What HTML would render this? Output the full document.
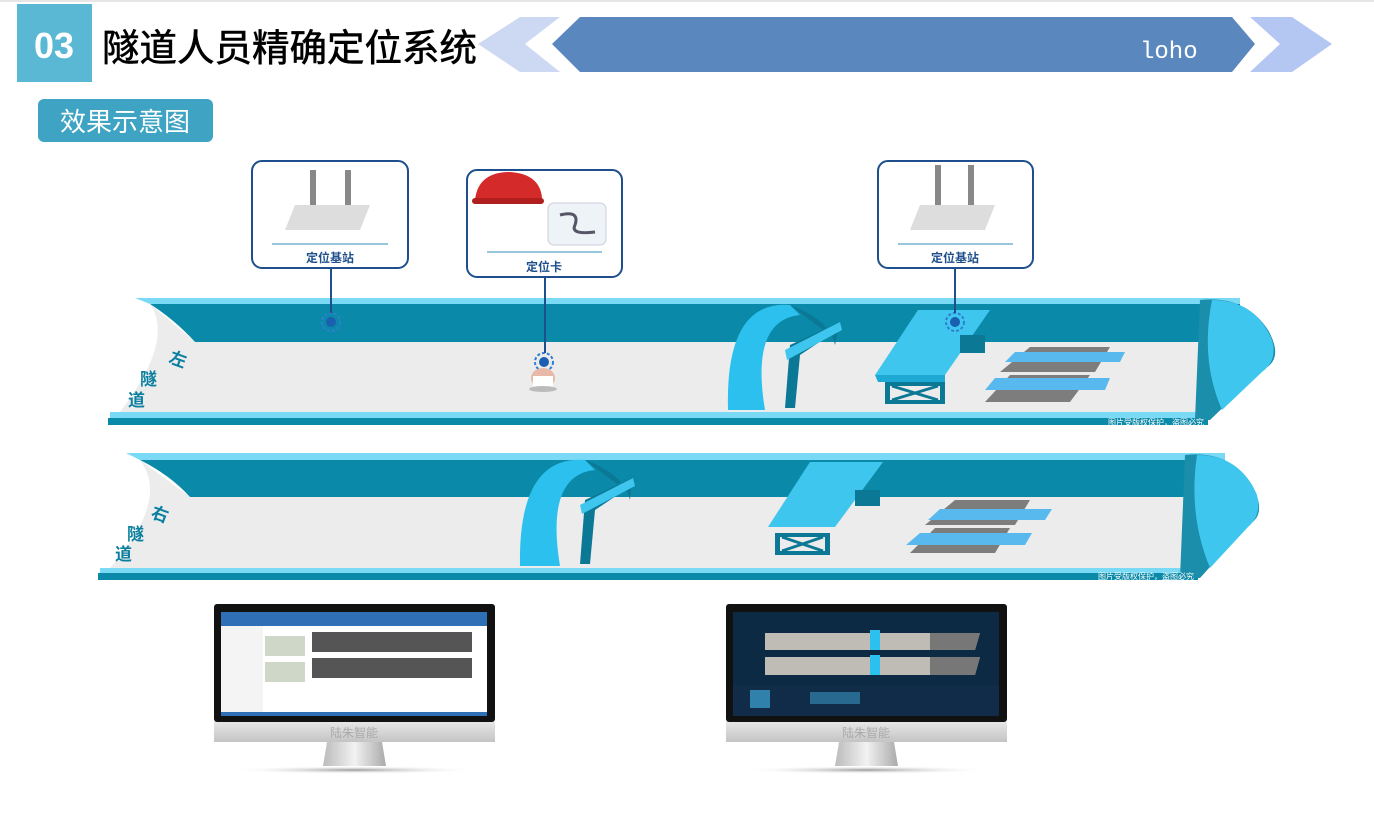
<!DOCTYPE html>
<html><head><meta charset="utf-8"><style>
html,body{margin:0;padding:0;background:#fff;}
body{width:1374px;height:817px;overflow:hidden;position:relative;font-family:"Liberation Sans","Noto Sans CJK SC",sans-serif;}
</style></head><body>
<svg width="1374" height="817" viewBox="0 0 1374 817" xmlns="http://www.w3.org/2000/svg" style="position:absolute;left:0;top:0">
<defs>
<linearGradient id="stand" x1="0" x2="1"><stop offset="0" stop-color="#bbb"/><stop offset=".5" stop-color="#f2f2f2"/><stop offset="1" stop-color="#aaa"/></linearGradient>
<linearGradient id="chin" x1="0" y1="0" x2="0" y2="1"><stop offset="0" stop-color="#e6e6e6"/><stop offset="1" stop-color="#c4c4c4"/></linearGradient>
<radialGradient id="sh"><stop offset="0" stop-color="#999"/><stop offset="1" stop-color="#fff" stop-opacity="0"/></radialGradient>
</defs>
<line x1="0" y1="1" x2="1374" y2="1" stroke="#e6e6e6" stroke-width="2"/>
<!-- header -->
<rect x="17" y="4" width="75" height="78" fill="#5bb8d4"/>
<text x="54" y="58" text-anchor="middle" font-size="36" font-weight="bold" fill="#fff">03</text>
<text x="102" y="61" font-size="37.5" fill="#000" stroke="#000" stroke-width="0.6" font-family="'Noto Sans CJK SC',sans-serif">隧道人员精确定位系统</text>
<polygon points="520,17 560,17 525,44 560,72 520,72 478,44" fill="#cdd8f2"/>
<polygon points="580,17 1232,17 1255,44 1232,72 580,72 552,44" fill="#5b87bf"/>
<text x="1140" y="58" font-size="24" fill="#fff" font-family="'Liberation Mono',monospace">loho</text>
<polygon points="1250,17 1292,17 1332,44 1292,72 1250,72 1280,44" fill="#b4c6f2"/>
<rect x="38" y="99" width="175" height="43" rx="6" fill="#3fa3c4"/>
<text x="125" y="131" text-anchor="middle" font-size="26" fill="#fff" font-family="'Noto Sans CJK SC',sans-serif">效果示意图</text>

<!-- tunnel 1 -->
<polygon points="135,298 1240,298 1240,304 150,304" fill="#7ad9f5"/>
<path d="M150,304 L1240,304 L1240,342 L195,342 Q175,320 150,304Z" fill="#0a8aa8"/>
<path d="M150,304 Q175,340 120,412 L1210,412 L1210,342 L195,342Z" fill="#ececec"/>
<rect x="110" y="412" width="1100" height="6" fill="#7ad9f5"/>
<rect x="108" y="418" width="1100" height="7" fill="#0a8aa8"/>
<path d="M1200,300 Q1245,295 1268,330 Q1285,360 1262,370 L1210,420 L1195,420 Z" fill="#1a8eaa"/>
<path d="M1212,300 Q1255,300 1272,340 Q1278,360 1262,372 L1222,410 Q1200,360 1212,300Z" fill="#3fc6ee"/>
<text x="168" y="362" font-size="17" font-weight="bold" fill="#0a7fa0" font-family="'Noto Sans CJK SC',sans-serif" transform="rotate(20 168 362)">左</text>
<text x="140" y="385" font-size="17" font-weight="bold" fill="#0a7fa0" font-family="'Noto Sans CJK SC',sans-serif">隧</text>
<text x="128" y="406" font-size="17" font-weight="bold" fill="#0a7fa0" font-family="'Noto Sans CJK SC',sans-serif">道</text>
<path d="M728,410 Q725,300 790,305 L800,315 Q750,320 765,410Z" fill="#2cc0ee"/>
<path d="M790,305 Q830,320 835,345 L840,322 L790,345 L785,408 L795,408 L800,355 L830,335Z" fill="#0b7895"/>
<polygon points="785,350 840,322 842,330 787,360" fill="#3fc6ee"/>
<polygon points="918,310 990,310 945,375 875,375" fill="#3fc6ee"/>
<polygon points="875,375 945,375 945,382 878,382" fill="#1ea9d4"/>
<rect x="885" y="382" width="60" height="22" fill="#0b7895"/>
<rect x="890" y="386" width="50" height="14" fill="#ececec"/><path d="M892,386 L938,400 M938,386 L892,400" stroke="#0b7895" stroke-width="3"/>
<rect x="960" y="335" width="25" height="18" fill="#0b7895"/>
<polygon points="1030,347 1110,347 1095,372 1000,372" fill="#7d7d7d"/><polygon points="1015,352 1125,352 1120,362 1005,362" fill="#58b9ef"/>
<polygon points="1010,375 1090,375 1070,402 985,402" fill="#7d7d7d"/><polygon points="995,378 1110,378 1105,390 985,390" fill="#58b9ef"/>
<text x="1108" y="425" font-size="8" fill="#fff">图片受版权保护，盗图必究</text>
<circle cx="331" cy="322" r="9" fill="none" stroke="#2f7fd0" stroke-width="2" stroke-dasharray="3 2"/><circle cx="331" cy="322" r="5" fill="#1a5fb0"/>
<circle cx="955" cy="322" r="9" fill="none" stroke="#2f7fd0" stroke-width="2" stroke-dasharray="3 2"/><circle cx="955" cy="322" r="5" fill="#1a5fb0"/>
<circle cx="544" cy="362" r="9" fill="none" stroke="#2f7fd0" stroke-width="2" stroke-dasharray="3 2"/><circle cx="544" cy="362" r="5" fill="#1a5fb0"/>
<ellipse cx="543" cy="378" rx="12" ry="10" fill="#e8b9a8"/><rect x="533" y="376" width="20" height="12" fill="#fff"/><ellipse cx="543" cy="389" rx="14" ry="3" fill="#bbb"/>
<line x1="331" y1="268" x2="331" y2="313" stroke="#1e4f8c" stroke-width="2"/>
<line x1="955" y1="268" x2="955" y2="313" stroke="#1e4f8c" stroke-width="2"/>
<line x1="545" y1="277" x2="545" y2="353" stroke="#1e4f8c" stroke-width="2"/>

<!-- tunnel 2 -->
<polygon points="126,453 1225,453 1225,460 140,460" fill="#7ad9f5"/>
<path d="M140,460 L1225,460 L1225,497 L190,497 Q170,475 140,460Z" fill="#0a8aa8"/>
<path d="M140,460 Q170,500 110,568 L1200,568 L1200,497 L190,497Z" fill="#ececec"/>
<rect x="100" y="568" width="1100" height="5" fill="#7ad9f5"/>
<rect x="98" y="573" width="1100" height="7" fill="#0a8aa8"/>
<path d="M1185,455 Q1230,450 1252,485 Q1268,515 1248,525 L1200,578 L1180,578 Z" fill="#1a8eaa"/>
<path d="M1197,455 Q1240,455 1257,495 Q1262,515 1248,527 L1210,568 Q1188,515 1197,455Z" fill="#3fc6ee"/>
<text x="150" y="517" font-size="17" font-weight="bold" fill="#0a7fa0" font-family="'Noto Sans CJK SC',sans-serif" transform="rotate(20 150 517)">右</text>
<text x="127" y="540" font-size="17" font-weight="bold" fill="#0a7fa0" font-family="'Noto Sans CJK SC',sans-serif">隧</text>
<text x="115" y="560" font-size="17" font-weight="bold" fill="#0a7fa0" font-family="'Noto Sans CJK SC',sans-serif">道</text>
<path d="M520,566 Q518,455 585,460 L595,470 Q545,475 560,566Z" fill="#2cc0ee"/>
<path d="M585,460 Q625,475 630,500 L632,478 L585,500 L580,564 L590,564 L595,510 L625,490Z" fill="#0b7895"/>
<polygon points="580,505 633,478 635,486 582,514" fill="#3fc6ee"/>
<polygon points="810,462 883,462 835,527 768,527" fill="#3fc6ee"/>
<rect x="855" y="490" width="25" height="16" fill="#0b7895"/>
<rect x="775" y="533" width="55" height="22" fill="#0b7895"/>
<rect x="780" y="537" width="45" height="14" fill="#ececec"/><path d="M782,537 L823,551 M823,537 L782,551" stroke="#0b7895" stroke-width="3"/>
<polygon points="955,500 1030,500 1015,525 925,525" fill="#7d7d7d"/><polygon points="940,509 1052,509 1045,520 928,520" fill="#58b9ef"/>
<polygon points="935,528 1010,528 995,553 910,553" fill="#7d7d7d"/><polygon points="920,533 1032,533 1025,545 906,545" fill="#58b9ef"/>
<text x="1098" y="579" font-size="8" fill="#fff">图片受版权保护，盗图必究</text>

<!-- callouts -->
<g font-family="'Noto Sans CJK SC',sans-serif" font-weight="bold" font-size="12" fill="#1e4f8c" text-anchor="middle">
<rect x="252" y="161" width="156" height="107" rx="10" fill="#fff" stroke="#1e4f8c" stroke-width="2"/>
<line x1="272" y1="244" x2="388" y2="244" stroke="#2f8fb8"/>
<text x="330" y="262">定位基站</text>
<polygon points="295,205 370,205 360,230 285,230" fill="#ddd"/>
<rect x="310" y="170" width="6" height="35" fill="#888"/><rect x="345" y="170" width="6" height="35" fill="#888"/>
<rect x="467" y="170" width="155" height="107" rx="10" fill="#fff" stroke="#1e4f8c" stroke-width="2"/>
<line x1="487" y1="252" x2="602" y2="252" stroke="#2f8fb8"/>
<text x="544" y="271">定位卡</text>
<path d="M475,200 Q478,172 510,172 Q540,174 542,198 Z" fill="#d42a2a"/><rect x="472" y="198" width="72" height="6" rx="3" fill="#b01e1e"/>
<rect x="548" y="203" width="58" height="42" rx="6" fill="#eef3f7" stroke="#ccd"/>
<path d="M560,215 Q580,210 575,225 Q570,235 595,232" stroke="#556" stroke-width="3" fill="none"/>
<rect x="878" y="161" width="155" height="107" rx="10" fill="#fff" stroke="#1e4f8c" stroke-width="2"/>
<line x1="898" y1="244" x2="1013" y2="244" stroke="#2f8fb8"/>
<text x="955" y="262">定位基站</text>
<polygon points="920,205 995,205 985,230 910,230" fill="#ddd"/>
<rect x="935" y="165" width="6" height="40" fill="#888"/><rect x="968" y="165" width="6" height="40" fill="#888"/>
</g>

<!-- monitors -->
<g>
<rect x="214" y="604" width="281" height="118" rx="3" fill="#111"/>
<rect x="221" y="612" width="266" height="104" fill="#fff"/>
<rect x="221" y="612" width="266" height="14" fill="#2e6fb5"/>
<rect x="221" y="626" width="42" height="90" fill="#f4f4f4"/>
<rect x="265" y="636" width="40" height="20" fill="#cfd8c8"/><rect x="265" y="662" width="40" height="20" fill="#cfd8c8"/>
<rect x="312" y="632" width="160" height="20" fill="#555"/><rect x="312" y="658" width="160" height="20" fill="#555"/>
<rect x="221" y="712" width="266" height="4" fill="#2e6fb5"/>
<rect x="214" y="722" width="281" height="20" fill="url(#chin)"/>
<text x="354" y="737" text-anchor="middle" font-size="12" fill="#aaa" font-family="'Noto Sans CJK SC',sans-serif">陆朱智能</text>
<polygon points="327,742 382,742 386,766 323,766" fill="url(#stand)"/>
<ellipse cx="354" cy="770" rx="125" ry="4" fill="url(#sh)"/>
<rect x="726" y="604" width="281" height="118" rx="3" fill="#111"/>
<rect x="733" y="612" width="266" height="104" fill="#0d2a44"/>
<polygon points="765,633 980,633 975,650 765,650" fill="#bfbcb5"/><polygon points="765,657 980,657 975,675 765,675" fill="#bfbcb5"/>
<polygon points="930,633 980,633 975,650 930,650" fill="#777"/><polygon points="930,657 980,657 975,675 930,675" fill="#777"/>
<rect x="870" y="630" width="10" height="20" fill="#2cc0ee"/><rect x="870" y="655" width="10" height="20" fill="#2cc0ee"/>
<rect x="733" y="685" width="266" height="31" fill="#102c48"/>
<rect x="750" y="690" width="20" height="18" fill="#3fa6d8" opacity=".7"/><rect x="810" y="692" width="50" height="12" fill="#3fa6d8" opacity=".5"/>
<rect x="726" y="722" width="281" height="20" fill="url(#chin)"/>
<text x="866" y="737" text-anchor="middle" font-size="12" fill="#aaa" font-family="'Noto Sans CJK SC',sans-serif">陆朱智能</text>
<polygon points="839,742 894,742 898,766 835,766" fill="url(#stand)"/>
<ellipse cx="866" cy="770" rx="125" ry="4" fill="url(#sh)"/>
</g>
</svg>
</body></html>
